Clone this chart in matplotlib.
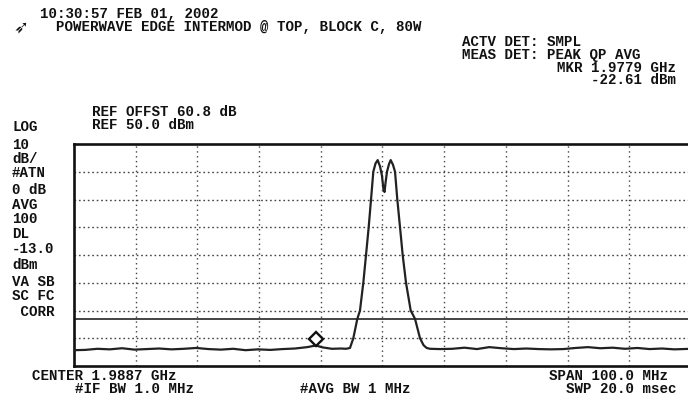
import matplotlib
matplotlib.use('Agg')
import matplotlib.pyplot as plt
from matplotlib.transforms import offset_copy

# analyzer setup
center_ghz = 1.9887
span_ghz = 0.100
ref_dbm = 50.0
db_per_div = 10
n_ydiv = 8
display_line = -13.0
mkr_freq = 1.9779
mkr_level = -22.61

# trace (GHz, dBm)
floor_left_f = [1.9387, 1.9405, 1.9425, 1.9445, 1.9465, 1.9485, 1.9505, 1.9525,
                1.9545, 1.9565, 1.9585, 1.9605, 1.9625, 1.9645, 1.9665, 1.9685,
                1.9705, 1.9725, 1.9745, 1.9765, 1.9779, 1.9790, 1.9805, 1.9820, 1.98278]
floor_left_l = [-24.3, -24.2, -23.8, -24.0, -23.6, -24.1, -23.9, -23.7,
                -24.0, -23.8, -23.5, -23.9, -24.1, -23.8, -24.3, -24.0,
                -24.2, -23.9, -23.7, -23.2, -22.61, -23.3, -23.8, -23.7, -23.8]
carrier_f = [1.98343, 1.98397, 1.98462, 1.98505, 1.98559, 1.98603, 1.98646, 1.98684,
             1.98721, 1.98757, 1.98792, 1.98829, 1.98862, 1.98886, 1.98903, 1.98919,
             1.98943, 1.98976, 1.99003, 1.99040, 1.99073, 1.99110, 1.99154, 1.99197,
             1.99251, 1.99327, 1.99397, 1.99478, 1.99535, 1.99586, 1.99640]
carrier_l = [-23.5, -20.0, -13.0, -10.0, 0.0, 10.0, 20.0, 30.0,
             40.0, 43.0, 44.2, 42.0, 38.5, 33.5, 32.7, 36.0,
             40.0, 42.8, 44.2, 42.5, 40.0, 30.0, 20.0, 10.0,
             0.0, -10.0, -13.0, -20.0, -22.5, -23.5, -23.8]
floor_right_f = [1.9980, 2.0000, 2.0020, 2.0040, 2.0060, 2.0080, 2.0100, 2.0120,
                 2.0140, 2.0160, 2.0180, 2.0200, 2.0220, 2.0240, 2.0260, 2.0280,
                 2.0300, 2.0320, 2.0340, 2.0360, 2.0387]
floor_right_l = [-23.9, -23.8, -23.4, -23.9, -23.2, -23.6, -23.9, -23.7,
                 -23.9, -24.0, -23.9, -23.5, -23.2, -23.6, -23.4, -23.8,
                 -23.5, -23.9, -23.7, -24.0, -23.8]

freqs = floor_left_f + carrier_f + floor_right_f
levels = floor_left_l + carrier_l + floor_right_l

# screen annotations: text, x, y (pixels from top-left), horizontal anchor
header = [('10:30:57 FEB 01, 2002', 40, 14, 'left'),
          ('POWERWAVE EDGE INTERMOD @ TOP, BLOCK C, 80W', 56, 27, 'left'),
          ('ACTV DET: SMPL', 462, 42.5, 'left'),
          ('MEAS DET: PEAK QP AVG', 462, 55, 'left'),
          ('MKR 1.9779 GHz', 676, 67.5, 'right'),
          ('-22.61 dBm', 676, 80, 'right'),
          ('REF OFFST 60.8 dB', 92, 112.5, 'left'),
          ('REF 50.0 dBm', 92, 125, 'left'),
          ('CENTER 1.9887 GHz', 32, 376.5, 'left'),
          ('#IF BW 1.0 MHz', 75, 389, 'left'),
          ('#AVG BW 1 MHz', 300, 389, 'left'),
          ('SPAN 100.0 MHz', 668, 376.5, 'right'),
          ('SWP 20.0 msec', 677, 389, 'right')]
side_lines = ['LOG', '10', 'dB/', '#ATN', '0 dB', 'AVG', '100', 'DL', '-13.0',
              'dBm', 'VA SB', 'SC FC', ' CORR']
side_y = [127, 145, 159, 173, 190, 205, 219, 234, 249, 265, 282, 296, 312]

W, H = 688, 404
fig = plt.figure(figsize=(W / 100, H / 100), dpi=100)
fig.patch.set_facecolor('white')

# plot box in pixels: left 74, top 144, right 691 (just past the edge), bottom 366
ax = fig.add_axes([74 / W, 1 - 366 / H, 617 / W, 222 / H])
f0 = center_ghz - span_ghz / 2
f1 = center_ghz + span_ghz / 2
bottom = ref_dbm - n_ydiv * db_per_div
ax.set_xlim(f0, f1)
ax.set_ylim(bottom, ref_dbm)
ax.set_xticks([])
ax.set_yticks([])
for s in ax.spines.values():
    s.set_linewidth(1.9)
    s.set_color('#111111')

# graticule
for i in range(1, 10):
    ax.axvline(f0 + i * span_ghz / 10, color='#444444', lw=1.0,
               linestyle=(0, (1, 2.5)), zorder=1)
for i in range(1, n_ydiv):
    ax.axhline(bottom + i * db_per_div, color='#444444', lw=1.0,
               linestyle=(0, (1.2, 2.0)), zorder=1)

ax.axhline(display_line, color='#111111', lw=1.1, zorder=2)
ax.plot(freqs, levels, color='#222222', lw=1.6, zorder=3)

mk_tr = offset_copy(ax.transData, fig=fig, x=0, y=5, units='points')
ax.plot([mkr_freq], [mkr_level], marker='D', ms=7, mfc='white', mec='#111111',
        mew=1.7, transform=mk_tr, zorder=4)

font = dict(family='Liberation Mono', weight='bold', size=10.2, color='#111111')

for s, x, y, ha in header:
    fig.text(x / W, 1 - y / H, s, ha=ha, va='center', **font)
for s, y in zip(side_lines, side_y):
    fig.text(12 / W, 1 - y / H, s, ha='left', va='center', **font)

# analyzer logo next to the title
fig.text(14 / W, 1 - 27 / H, '\u27b6', ha='left', va='center', family='DejaVu Sans',
         size=13, color='#111111')

fig.savefig('out.png', dpi=100)
